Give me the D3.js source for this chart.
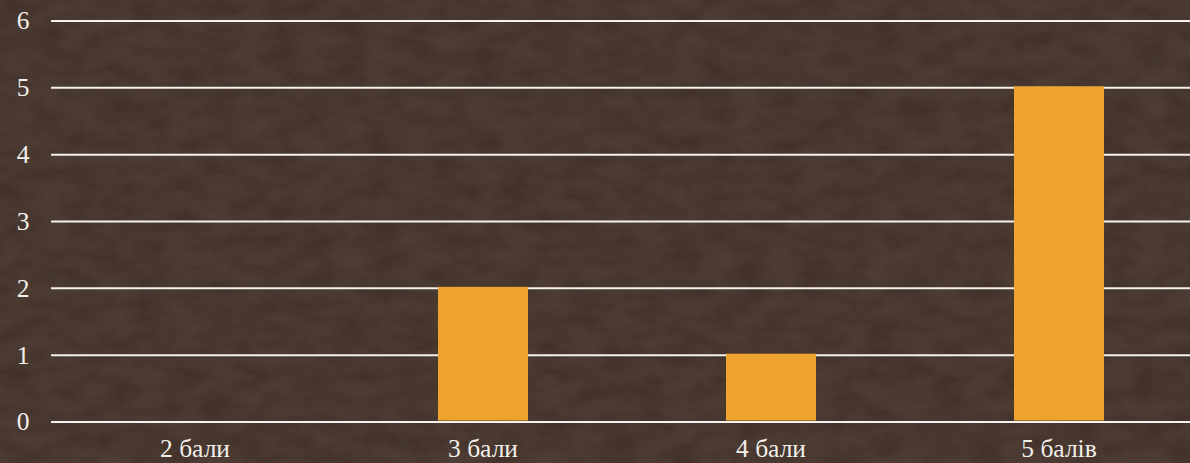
<!DOCTYPE html>
<html>
<head>
<meta charset="utf-8">
<script src="https://cdn.jsdelivr.net/npm/d3@7"></script>
<style>
html,body{margin:0;padding:0;background:#43332b;}
svg{display:block;}
</style>
</head>
<body>
<svg id="chart" width="1190" height="463"></svg>
<script>
const categories = ["2 бали", "3 бали", "4 бали", "5 балів"];
const values = [0, 2, 1, 5];
const yTicks = [0, 1, 2, 3, 4, 5, 6];

const W = 1190, H = 463;
const margin = {left: 51, top: 20.5, bottom: 41.5};
const plotRight = 1203;
const FONT = "'Liberation Serif', 'Times New Roman', serif";
const FS = 25.5;

const svg = d3.select("#chart");

// subtle textured background
const defs = svg.append("defs");
const f = defs.append("filter").attr("id", "tex").attr("x", 0).attr("y", 0).attr("width", "100%").attr("height", "100%");
f.append("feTurbulence").attr("type", "fractalNoise").attr("baseFrequency", "0.03 0.06").attr("numOctaves", 3).attr("seed", 4).attr("result", "n");
f.append("feColorMatrix").attr("in", "n").attr("type", "matrix")
  .attr("values", "0 0 0 0 0.32  0 0 0 0 0.24  0 0 0 0 0.2  0 0 0 0.5 -0.1").attr("result", "c");
f.append("feComposite").attr("in", "c").attr("in2", "SourceGraphic").attr("operator", "over");

svg.append("rect").attr("width", W).attr("height", H).attr("fill", "#42322a");
svg.append("rect").attr("width", W).attr("height", H).attr("fill", "#42322a").attr("filter", "url(#tex)").attr("opacity", 0.3);

const x = d3.scaleBand().domain(categories).range([margin.left, plotRight])
  .paddingInner(0.6875).paddingOuter(0.34375);
const y = d3.scaleLinear().domain([0, 6]).range([H - margin.bottom, margin.top]);

// gridlines + y labels
const yAxis = d3.axisLeft(y).tickValues(yTicks).tickSize(-(plotRight - margin.left)).tickPadding(21.5).tickFormat(d3.format("d"));
const ga = svg.append("g").attr("transform", `translate(${margin.left},0)`).call(yAxis);
ga.select(".domain").remove();
ga.selectAll(".tick line").attr("stroke", "#f4f1ee").attr("stroke-width", 2);
ga.selectAll(".tick text").attr("fill", "#f2efea").attr("font-family", FONT).attr("font-size", FS).attr("dy", "0.33em");

// bars
svg.append("g").selectAll("rect").data(categories.map((c, i) => ({c, v: values[i]})))
  .join("rect")
  .attr("x", d => x(d.c))
  .attr("width", x.bandwidth())
  .attr("y", d => y(d.v) - 1)
  .attr("height", d => Math.max(0, y(0) - y(d.v)))
  .attr("fill", "#efa32f");

// x axis labels
const xAxis = d3.axisBottom(x).tickSize(0).tickPadding(17);
const gx = svg.append("g").attr("transform", `translate(0,${y(0)})`).call(xAxis);
gx.select(".domain").remove();
gx.selectAll(".tick text").attr("fill", "#f2efea").attr("font-family", FONT).attr("font-size", FS);
</script>
</body>
</html>
